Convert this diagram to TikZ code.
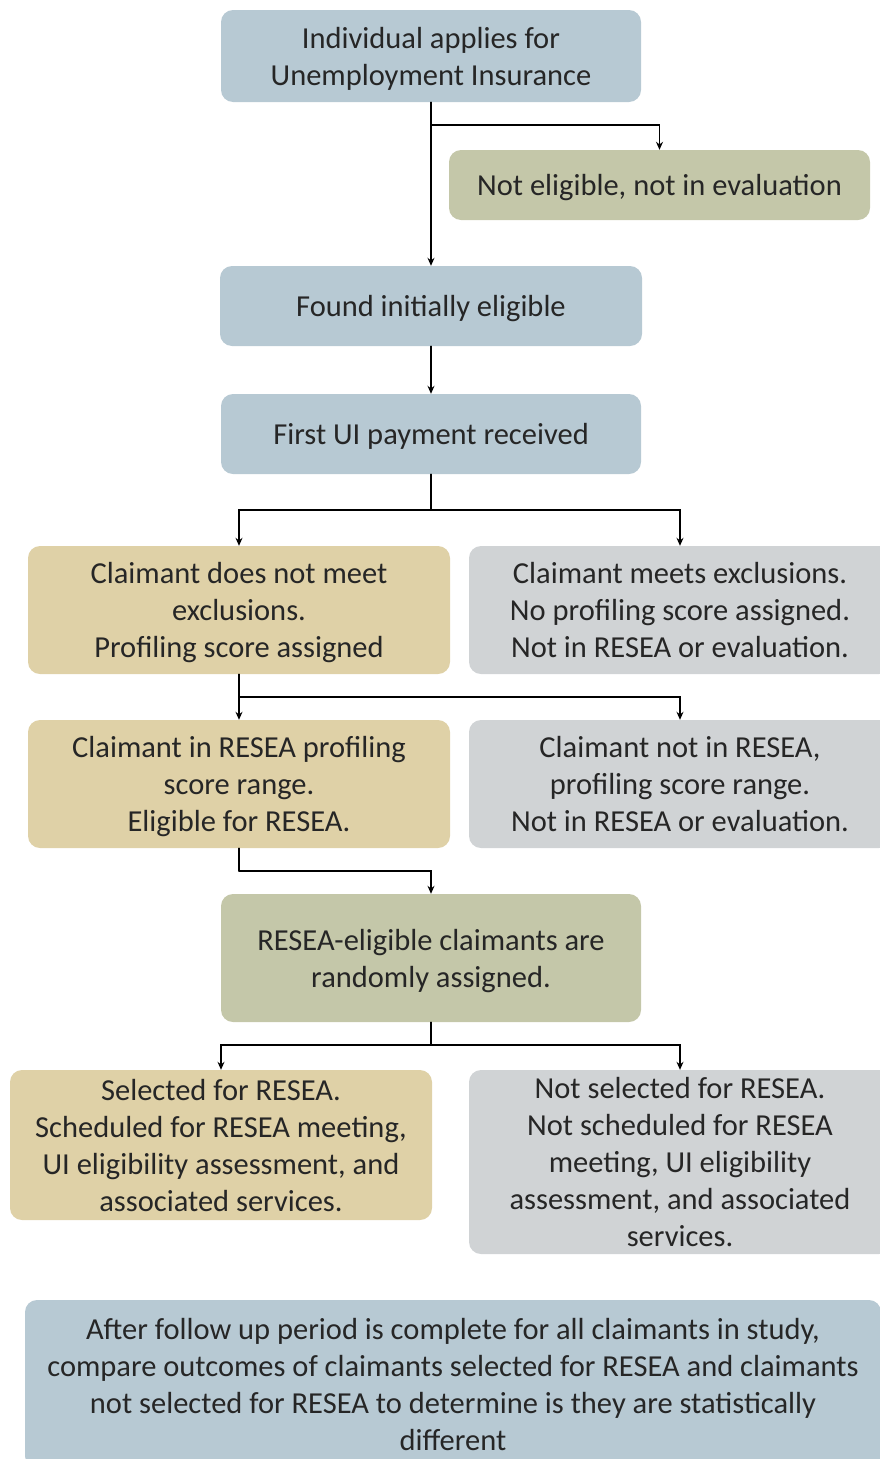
\documentclass[tikz,border=0pt]{standalone}
\usepackage{fontspec}
\setmainfont{Carlito}
\usetikzlibrary{arrows.meta}

\definecolor{boxblue}{HTML}{B7C9D3}
\definecolor{boxolive}{HTML}{C4C7A9}
\definecolor{boxtan}{HTML}{DFD1A7}
\definecolor{boxgrey}{HTML}{D0D3D5}

\begin{document}
\begin{tikzpicture}[x=1pt, y=-1pt, line cap=round,
    box/.style={rounded corners=12pt, inner sep=0pt, align=center, text=black!85,
        font=\fontsize{30.5pt}{37pt}\selectfont, text depth=0pt},
    link/.style={line width=1.3pt},
    arr/.style={line width=1.3pt, -{Stealth[length=8pt, width=7pt]}}]

    \useasboundingbox (0,0) rectangle (880,1459);

    \node[box, fill=boxblue, minimum width=420pt, minimum height=92pt] (apply) at (431,56) {Individual applies for\\Unemployment Insurance};
    \node[box, fill=boxolive, minimum width=421pt, minimum height=70pt] (noelig) at (659.5,185) {Not eligible, not in evaluation};
    \node[box, fill=boxblue, minimum width=422pt, minimum height=80pt] (elig) at (431,306) {Found initially eligible};
    \node[box, fill=boxblue, minimum width=420pt, minimum height=80pt] (pay) at (431,434) {First UI payment received};

    \node[box, fill=boxtan, minimum width=422pt, minimum height=128pt] (score) at (239,610) {Claimant does not meet\\exclusions.\\Profiling score assigned};
    \node[box, fill=boxgrey, minimum width=422pt, minimum height=128pt] (excl) at (680,610) {Claimant meets exclusions.\\No profiling score assigned.\\Not in RESEA or evaluation.};

    \node[box, fill=boxtan, minimum width=422pt, minimum height=128pt] (range) at (239,784) {Claimant in RESEA profiling\\score range.\\Eligible for RESEA.};
    \node[box, fill=boxgrey, minimum width=422pt, minimum height=128pt] (norange) at (680,784) {Claimant not in RESEA,\\profiling score range.\\Not in RESEA or evaluation.};

    \node[box, fill=boxolive, minimum width=420pt, minimum height=128pt] (random) at (431,958) {RESEA-eligible claimants are\\randomly assigned.};

    \node[box, fill=boxtan, minimum width=422pt, minimum height=150pt] (sel) at (221,1145) {Selected for RESEA.\\Scheduled for RESEA meeting,\\UI eligibility assessment, and\\associated services.};
    \node[box, fill=boxgrey, minimum width=422pt, minimum height=184pt] (nosel) at (680,1162) {Not selected for RESEA.\\Not scheduled for RESEA\\meeting, UI eligibility\\assessment, and associated\\services.};

    \node[box, fill=boxblue, minimum width=856pt, minimum height=168pt] (compare) at (453,1384) {After follow up period is complete for all claimants in study,\\compare outcomes of claimants selected for RESEA and claimants\\not selected for RESEA to determine is they are statistically\\different};

    % branch points
    \coordinate (s1) at (431,125);
    \coordinate (s2) at (431,510);
    \coordinate (s3) at (239,697);
    \coordinate (s4) at (239,871);
    \coordinate (s5) at (431,1045);

    \draw[arr] (apply.south) -- (elig.north);
    \draw[arr] (s1) -| (noelig.north);
    \draw[arr] (elig.south) -- (pay.north);

    \draw[link] (pay.south) -- (s2);
    \draw[arr] (s2) -| (score.north);
    \draw[arr] (s2) -| (excl.north);

    \draw[arr] (score.south) -- (range.north);
    \draw[arr] (s3) -| (norange.north);

    \draw[link] (range.south) -- (s4);
    \draw[arr] (s4) -| (random.north);

    \draw[link] (random.south) -- (s5);
    \draw[arr] (s5) -| (sel.north);
    \draw[arr] (s5) -| (nosel.north);

\end{tikzpicture}
\end{document}
